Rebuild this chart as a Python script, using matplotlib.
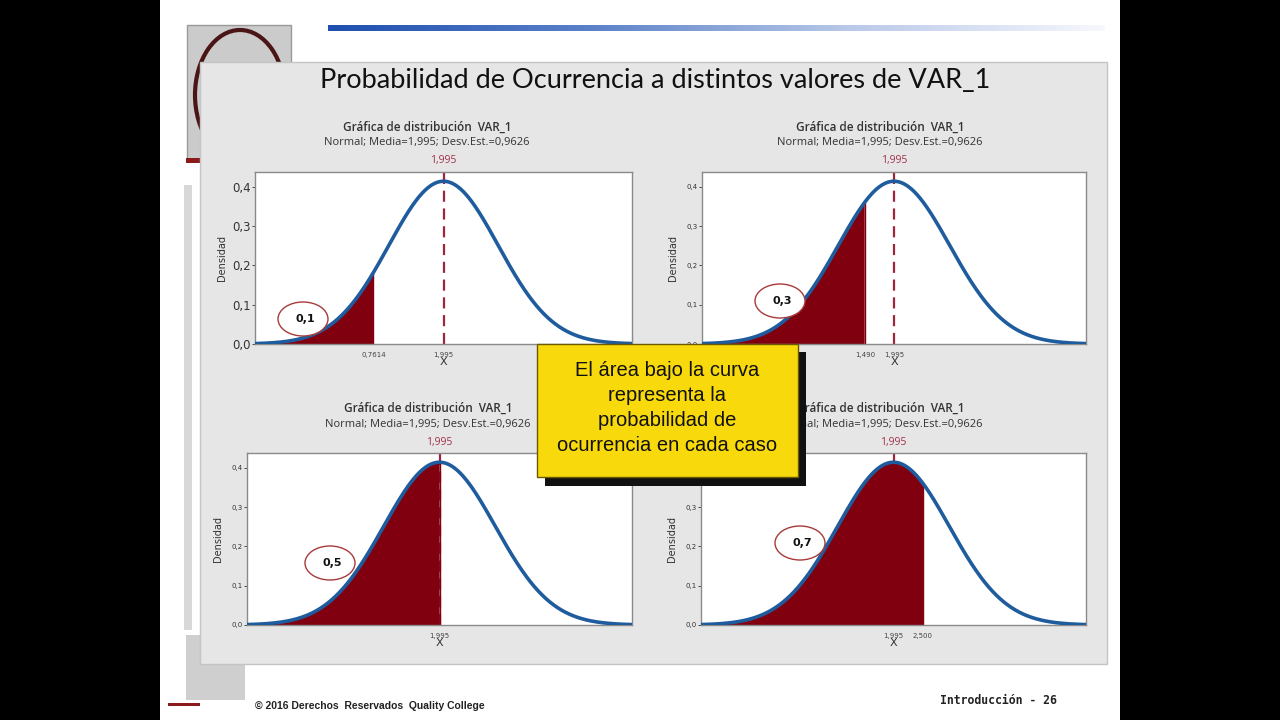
import numpy as np
import matplotlib.pyplot as plt
from matplotlib.patches import Rectangle, Ellipse
from matplotlib.colors import LinearSegmentedColormap

# distribution parameters shown in the chart
media = 1.995
desv = 0.9626
cutoffs = [0.7614, 1.490, 1.995, 2.500]
probs = ['0,1', '0,3', '0,5', '0,7']
xtick_vals = [[0.7614, 1.995], [1.490, 1.995], [1.995], [1.995, 2.500]]
xtick_labels = [['0,7614', '1,995'], ['1,490', '1,995'], ['1,995'], ['1,995', '2,500']]
yticks = [0.0, 0.1, 0.2, 0.3, 0.4]
ytick_labels = ['0,0', '0,1', '0,2', '0,3', '0,4']

W, H = 1280, 720
fig = plt.figure(figsize=(12.8, 7.2), dpi=100)
fig.patch.set_facecolor('white')


def fx(px):
    return px / W


def fy(py):
    return 1 - py / H


def rect(x0, y0, x1, y1, **kw):
    r = Rectangle((fx(x0), fy(y1)), fx(x1) - fx(x0), fy(y0) - fy(y1),
                  transform=fig.transFigure, **kw)
    fig.add_artist(r)
    return r


# black side bars of the video frame
rect(0, 0, 160, 720, facecolor='black', edgecolor='none', zorder=0)
rect(1120, 0, 1280, 720, facecolor='black', edgecolor='none', zorder=0)

# slide decorations
grad_ax = fig.add_axes([fx(328), fy(31), fx(1105) - fx(328), fy(25) - fy(31)])
grad = np.linspace(0, 1, 256).reshape(1, -1)
cm = LinearSegmentedColormap.from_list('bar', ['#1d4fb0', '#5a80c8', '#b8c8e8', '#f7f8fc'])
grad_ax.imshow(grad, aspect='auto', cmap=cm)
grad_ax.axis('off')

rect(187, 25, 291, 160, facecolor='#cbcbcb', edgecolor='#999999', lw=1, zorder=1)
fig.add_artist(Ellipse((fx(240), fy(95)), fx(90), 130 / H, transform=fig.transFigure,
                       facecolor='none', edgecolor='#4a1515', lw=3, zorder=1))
rect(186, 158, 200, 163, facecolor='#8b1a1a', edgecolor='none', zorder=1)
rect(184, 185, 192, 630, facecolor='#d8d8d8', edgecolor='none', zorder=1)
rect(186, 635, 245, 700, facecolor='#cfcfcf', edgecolor='none', zorder=1)
rect(168, 703, 200, 706, facecolor='#8b1a1a', edgecolor='none', zorder=1)

# gray panel holding the four graphs
rect(200, 62, 1107, 664, facecolor='#e6e6e6', edgecolor='#c4c4c4', lw=1, zorder=2)

fig.text(fx(655), fy(81), 'Probabilidad de Ocurrencia a distintos valores de VAR_1',
         ha='center', va='center', fontsize=19.5, family='Lato', color='#111111', zorder=3)

# axes rectangles in pixels (x0, y0, x1, y1)
boxes = [(255, 172, 632, 344), (702, 172, 1086, 344),
         (247, 453, 632, 625), (701, 453, 1086, 625)]
title_x = [427, 880, 428, 880]
ell_pos = [(303, 319), (780, 301), (330, 563), (800, 543)]

xmin = media - 3.45 * desv
xmax = media + 3.45 * desv
x = np.linspace(xmin, xmax, 600)
dens = np.exp(-0.5 * ((x - media) / desv) ** 2) / (desv * np.sqrt(2 * np.pi))

for i, (x0, y0, x1, y1) in enumerate(boxes):
    ax = fig.add_axes([fx(x0), fy(y1), fx(x1) - fx(x0), fy(y0) - fy(y1)], zorder=4)
    ax.set_facecolor('white')
    ax.axvline(media, color='#a0253a', ls=(0, (5, 3)), lw=1.6, zorder=1)
    mask = x <= cutoffs[i]
    ax.fill_between(x[mask], 0, dens[mask], color='#800010', lw=0, zorder=2)
    ax.vlines(cutoffs[i], 0, np.interp(cutoffs[i], x, dens), color='#800010', lw=1, zorder=2)
    ax.plot(x, dens, color='#1f5c9e', lw=2.6, zorder=3)
    ax.set_xlim(xmin, xmax)
    ax.set_ylim(0, 0.438)
    ax.set_yticks(yticks)
    ax.set_yticklabels(ytick_labels)
    ax.set_xticks(xtick_vals[i])
    ax.set_xticklabels(xtick_labels[i])
    ysize = 8.5 if i == 0 else 5
    ax.tick_params(axis='y', labelsize=ysize, length=2, width=0.6, colors='#333333', pad=1)
    ax.tick_params(axis='x', labelsize=5, length=0, colors='#444444', pad=6)
    for s in ax.spines.values():
        s.set_color('#8a8a8a')
        s.set_linewidth(1)
    ax.set_xlabel('X', fontsize=8, color='#333333', labelpad=-1)
    ax.set_ylabel('Densidad', fontsize=7, color='#333333', labelpad=4 if i == 0 else 6)

    # titles and mean label
    fig.text(fx(title_x[i]), fy(y0 - 45), 'Gráfica de distribución  VAR_1',
             ha='center', va='center', fontsize=8.5, family='Open Sans', fontweight='semibold',
             color='#333333', zorder=5)
    fig.text(fx(title_x[i]), fy(y0 - 29), 'Normal; Media=1,995; Desv.Est.=0,9626',
             ha='center', va='center', fontsize=8, family='Open Sans',
             color='#333333', zorder=5)
    mx = x0 + (media - xmin) / (xmax - xmin) * (x1 - x0)
    fig.text(fx(mx), fy(y0 - 11), '1,995', ha='center', va='center', fontsize=7.5,
             family='Open Sans', color='#a0304a', zorder=5)

    cx, cy = ell_pos[i]
    fig.add_artist(Ellipse((fx(cx), fy(cy)), fx(50), 34 / H, transform=fig.transFigure,
                           facecolor='white', edgecolor='#a83a3a', lw=1, zorder=6))
    fig.text(fx(cx + 2), fy(cy), probs[i], ha='center', va='center', fontsize=8,
             fontweight='bold', color='#111111', zorder=7)

# yellow callout box with black shadow
rect(545, 352, 806, 486, facecolor='#111111', edgecolor='none', zorder=8)
rect(537, 344, 798, 477, facecolor='#f8d90c', edgecolor='#6b5a00', lw=1, zorder=9)
fig.text(fx(667), fy(408), 'El área bajo la curva\nrepresenta la\nprobabilidad de\nocurrencia en cada caso',
         ha='center', va='center', fontsize=14.5, family='Liberation Sans',
         color='#111111', linespacing=1.42, zorder=10)

# footer
fig.text(fx(255), fy(706), '© 2016 Derechos  Reservados  Quality College', ha='left', va='center',
         fontsize=7.5, family='Liberation Sans', fontweight='bold', color='#222222')
fig.text(fx(1057), fy(701), 'Introducción - 26', ha='right', va='center',
         fontsize=8.3, family='DejaVu Sans Mono', fontweight='bold', color='#222222')

fig.savefig('out.png', dpi=100)
